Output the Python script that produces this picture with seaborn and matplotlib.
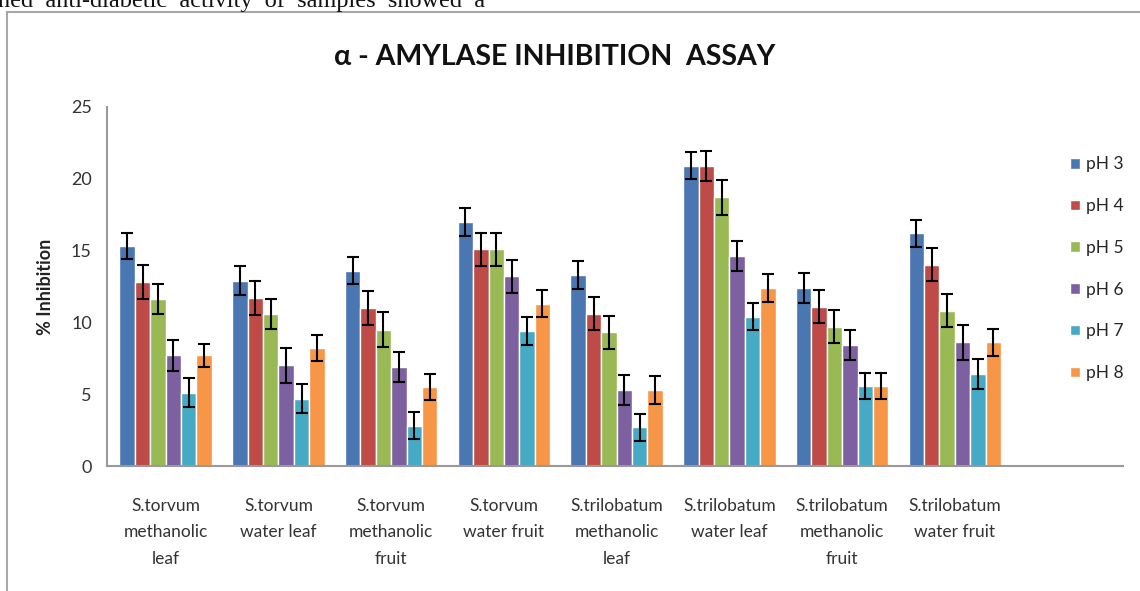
import matplotlib
matplotlib.use("Agg")
import matplotlib.pyplot as plt
import matplotlib.patches as mpatches
import seaborn as sns
import pandas as pd

# --- data ---
samples = [
    "S.torvum\nmethanolic\nleaf",
    "S.torvum\nwater leaf",
    "S.torvum\nmethanolic\nfruit",
    "S.torvum\nwater fruit",
    "S.trilobatum\nmethanolic\nleaf",
    "S.trilobatum\nwater leaf",
    "S.trilobatum\nmethanolic\nfruit",
    "S.trilobatum\nwater fruit",
]
ph_levels = ["pH 3", "pH 4", "pH 5", "pH 6", "pH 7", "pH 8"]

ph3 = [15.3, 12.9, 13.6, 17.0, 13.3, 20.9, 12.4, 16.2]
ph4 = [12.8, 11.7, 11.0, 15.1, 10.6, 20.9, 11.1, 14.0]
ph5 = [11.6, 10.6, 9.5, 15.1, 9.3, 18.7, 9.7, 10.8]
ph6 = [7.7, 7.0, 6.9, 13.2, 5.3, 14.6, 8.4, 8.6]
ph7 = [5.1, 4.7, 2.8, 9.4, 2.7, 10.4, 5.6, 6.4]
ph8 = [7.7, 8.2, 5.5, 11.3, 5.3, 12.4, 5.6, 8.6]

err3 = [0.9, 1.0, 0.95, 0.95, 0.95, 0.95, 1.05, 0.95]
err4 = [1.2, 1.2, 1.2, 1.15, 1.15, 1.05, 1.15, 1.15]
err5 = [1.05, 1.05, 1.2, 1.15, 1.15, 1.2, 1.15, 1.15]
err6 = [1.1, 1.2, 1.05, 1.15, 1.05, 1.05, 1.05, 1.2]
err7 = [1.0, 1.0, 0.95, 0.95, 0.95, 0.95, 0.9, 1.05]
err8 = [0.8, 0.9, 0.9, 0.95, 0.95, 0.95, 0.9, 0.95]

colors = ["#4A76B2", "#BE4B48", "#98B954", "#7D60A0", "#46AAC5", "#F79646"]

values = [ph3, ph4, ph5, ph6, ph7, ph8]
errors = [err3, err4, err5, err6, err7, err8]

df = pd.DataFrame({
    "sample": [s for _ in ph_levels for s in samples],
    "ph": [p for p in ph_levels for _ in samples],
    "inhibition": [v for vals in values for v in vals],
})

sns.set_style("white")
plt.rcParams["font.family"] = ["Lato", "DejaVu Sans"]

fig = plt.figure(figsize=(11.4, 5.91), dpi=100)
ax = fig.add_axes([0.0939, 0.2115, 0.8911, 0.6075])

sns.barplot(data=df, x="sample", y="inhibition", hue="ph", order=samples,
            hue_order=ph_levels, palette=colors, width=0.82, errorbar=None,
            saturation=1, ax=ax)

# error bars on top of each hue group
for cont, err in zip(ax.containers, errors):
    xs = [b.get_x() + b.get_width() / 2 for b in cont]
    ys = [b.get_height() for b in cont]
    ax.errorbar(xs, ys, yerr=err, fmt="none", ecolor="black",
                elinewidth=1.5, capsize=4, capthick=1.5)

ax.set_xlim(-0.52, 8.49)
ax.set_ylim(0, 25)
ax.set_yticks([0, 5, 10, 15, 20, 25])
ax.set_xlabel("")
ax.set_ylabel("% Inhibition", fontsize=13, fontweight="bold", color="#222222", labelpad=12)

for s in ["top", "right"]:
    ax.spines[s].set_visible(False)
for s in ["left", "bottom"]:
    ax.spines[s].set_color("#999999")
    ax.spines[s].set_linewidth(1.5)

ax.tick_params(axis="y", direction="out", length=4, color="#999999", labelsize=13,
               labelcolor="#333333", pad=7)
ax.tick_params(axis="x", length=0, labelsize=12.5, labelcolor="#333333", pad=23)
for lbl in ax.get_xticklabels():
    lbl.set_linespacing(1.8)

handles, labels = ax.get_legend_handles_labels()
ax.legend(handles, labels, loc="upper left", bbox_to_anchor=(0.931, 0.75),
          bbox_transform=fig.transFigure, frameon=False, fontsize=12.5,
          handlelength=0.55, handleheight=0.55, handletextpad=0.35,
          labelspacing=1.48, borderpad=0)

fig.text(0.487, 0.904, "\u03b1 - AMYLASE INHIBITION  ASSAY", ha="center", va="center",
         fontsize=20.5, fontweight="bold", color="#111111",
         family=["Lato", "DejaVu Sans"])

# piece of the surrounding page text and the chart frame
fig.text(-0.002, 0.988, "ned  anti-diabetic  activity  of  samples  showed  a",
         ha="left", va="baseline", fontsize=17.5, family="Liberation Serif", color="#111111")
fig.patches.append(mpatches.Rectangle((7 / 1140, -0.05), 1.2, 1 - 12 / 591 + 0.05,
                                      transform=fig.transFigure, fill=False,
                                      edgecolor="#a8a8a8", linewidth=1.5))

fig.savefig("out.png", dpi=100, facecolor="white")
